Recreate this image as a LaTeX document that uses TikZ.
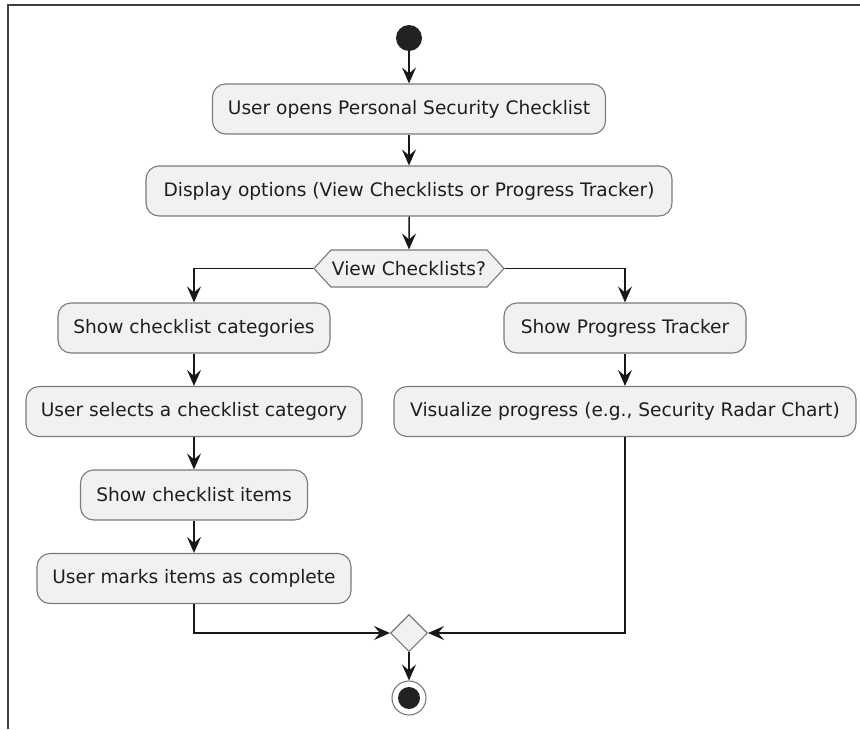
\documentclass[tikz,border=0pt]{standalone}
\usepackage{fontspec}
\setmainfont{DejaVu Sans}
\usetikzlibrary{arrows.meta,shapes.geometric,shapes.symbols}
\definecolor{boxfill}{HTML}{F1F1F1}
\definecolor{boxline}{HTML}{7A7A7A}
\definecolor{lineclr}{HTML}{181818}
\definecolor{txt}{HTML}{1E1E1E}
\definecolor{dot}{HTML}{222222}
\tikzset{
  act/.style={draw=boxline, line width=1.1pt, fill=boxfill, rounded corners=13pt,
    minimum height=50pt, inner sep=0pt, text=txt, font=\fontsize{18.6}{22}\selectfont},
  decision/.style={signal, signal to=west and east, signal pointer angle=95,
    draw=boxline, line width=1.1pt, fill=boxfill, minimum height=37pt,
    inner xsep=1pt, inner ysep=0pt, text=txt, font=\fontsize{18.6}{22}\selectfont},
  merge/.style={diamond, aspect=1, draw=boxline, line width=1.1pt, fill=boxfill,
    minimum width=37pt, minimum height=37pt, inner sep=0pt},
  arr/.style={draw=lineclr, line width=1.5pt,
    -{Stealth[length=16pt, width=14pt, inset=6pt]}},
}
\begin{document}
\begin{tikzpicture}[x=1pt,y=-1pt]
\useasboundingbox (0,0) rectangle (860,729);
\draw[line width=2pt, draw=black!75] (8,729) -- (8,5) -- (860,5);

\node[circle, fill=dot, minimum size=26pt, inner sep=0pt] (start) at (409,38) {};
\node[act, minimum width=393pt] (b1) at (409,109) {User opens Personal Security Checklist};
\node[act, minimum width=526pt] (b2) at (409,191) {Display options (View Checklists or Progress Tracker)};
\node[decision] (dec) at (409,268.5) {View Checklists?};
\node[act, minimum width=272pt] (b3) at (194,328) {Show checklist categories};
\node[act, minimum width=242pt] (b4) at (625,328) {Show Progress Tracker};
\node[act, minimum width=336pt] (b5) at (194,411.5) {User selects a checklist category};
\node[act, minimum width=462pt] (b6) at (625,411.5) {Visualize progress (e.g., Security Radar Chart)};
\node[act, minimum width=227pt] (b7) at (194,495) {Show checklist items};
\node[act, minimum width=314pt] (b8) at (194,578.5) {User marks items as complete};
\node[merge] (mg) at (409,633) {};
\node[circle, draw=boxline, line width=1.1pt, fill=white, minimum size=34pt, inner sep=0pt] (end) at (409,698) {};
\node[circle, fill=dot, minimum size=22pt, inner sep=0pt] (endDot) at (end.center) {};

\draw[arr] (start) -- (b1);
\draw[arr] (b1) -- (b2);
\draw[arr] (b2) -- (dec);
\draw[arr] (dec.west) -| (b3.north);
\draw[arr] (dec.east) -| (b4.north);
\draw[arr] (b3) -- (b5);
\draw[arr] (b5) -- (b7);
\draw[arr] (b7) -- (b8);
\draw[arr] (b4) -- (b6);
\draw[arr] (b8.south) |- (mg.west);
\draw[arr] (b6.south) |- (mg.east);
\draw[arr] (mg) -- (end);
\end{tikzpicture}
\end{document}
